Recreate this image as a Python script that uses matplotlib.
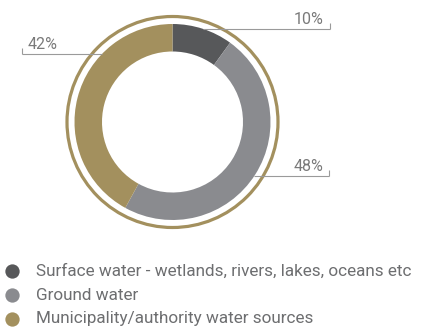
import matplotlib
matplotlib.use("Agg")
import matplotlib.pyplot as plt
from matplotlib.patches import Circle
import numpy as np

categories = ["Surface water - wetlands, rivers, lakes, oceans etc",
              "Ground water",
              "Municipality/authority water sources"]
values = [10, 48, 42]
pct_labels = ["10%", "48%", "42%"]
colors = ["#57585a", "#8a8b8f", "#a3905e"]

W, H = 427, 329
fig = plt.figure(figsize=(W / 100, H / 100), dpi=100)
ax = fig.add_axes([0, 0, 1, 1])

cx, cy = 172.5, H - 122
R = 98
width = 27.5

ax.pie(values, colors=colors, startangle=90, counterclock=False,
       radius=R, center=(cx, cy), wedgeprops=dict(width=width, linewidth=0),
       frame=True)
ax.set_xlim(0, W)
ax.set_ylim(0, H)
ax.set_aspect("equal")
ax.axis("off")

ax.add_patch(Circle((cx, cy), 105.5, fill=False, lw=2.3, edgecolor=colors[2]))

# leader lines: (y of line in px from top, end x, side)
layout = [(29, 330, "right"), (176, 329, "right"), (54, 22, "left")]
font = "Roboto"
line_c = "#9a9a9a"
for lab, (ypx, xend, side) in zip(pct_labels, layout):
    y = H - ypx
    dx = np.sqrt(R**2 - (y - cy) ** 2)
    xs = cx + dx if side == "right" else cx - dx
    ax.plot([xs, xend], [y, y], color=line_c, lw=0.8, solid_capstyle="butt")
    ax.plot([xend, xend], [y, y + 6], color=line_c, lw=0.8, solid_capstyle="butt")
    if side == "right":
        ax.text(xend - 6, y + 2, lab, ha="right", va="bottom", fontsize=11.5,
                color="#7a7a7a", family=font)
    else:
        ax.text(xend + 6, y + 2, lab, ha="left", va="bottom", fontsize=11.5,
                color="#7a7a7a", family=font)

# legend
for i, (lab, c) in enumerate(zip(categories, colors)):
    y = H - (271 + 24 * i)
    ax.plot(12, y, "o", ms=10.3, color=c, mec="none")
    ax.text(36, y, lab, ha="left", va="center", fontsize=12.3, color="#6d6e70",
            family=font)

fig.savefig("out.png", dpi=100)
